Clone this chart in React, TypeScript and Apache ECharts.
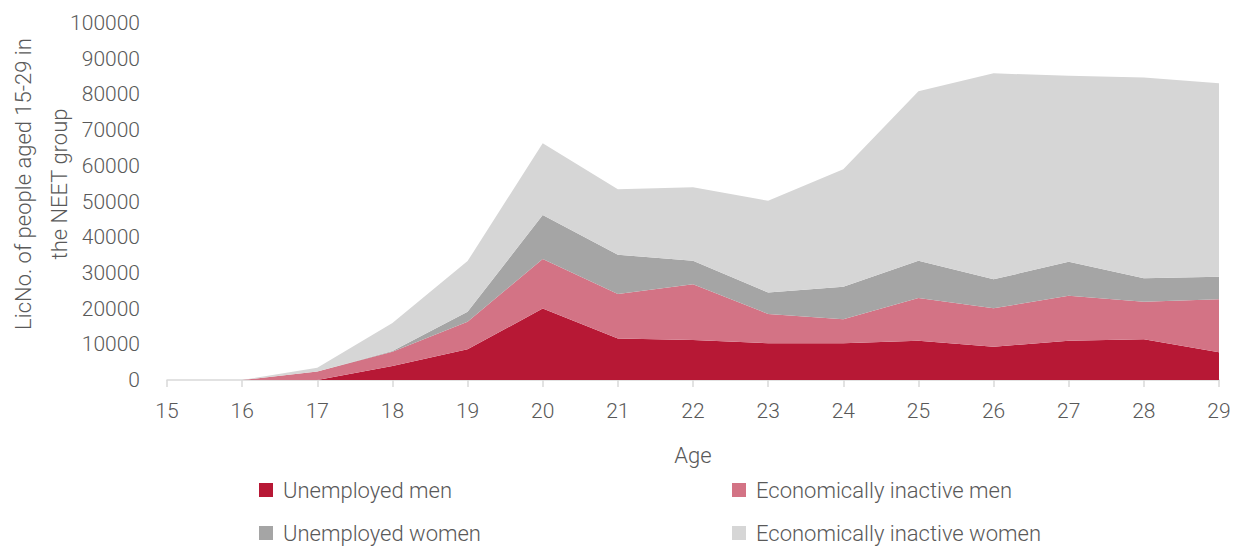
import React, { useEffect, useRef } from "react";
import * as echarts from "echarts";

const ages = ["15", "16", "17", "18", "19", "20", "21", "22", "23", "24", "25", "26", "27", "28", "29"];
const unemployedMen = [0, 0, 0, 3900, 8600, 20000, 11600, 11200, 10300, 10300, 11000, 9300, 11000, 11400, 7750];
const inactiveMen = [0, 0, 2400, 4000, 7700, 13900, 12500, 15600, 8200, 6700, 12000, 10800, 12600, 10500, 14850];
const unemployedWomen = [0, 0, 0, 200, 2800, 12300, 11000, 6600, 6000, 9100, 10400, 8100, 9500, 6600, 6300];
const inactiveWomen = [0, 0, 1000, 7900, 14200, 20100, 18300, 20600, 25700, 32900, 47500, 57700, 52100, 56200, 54200];

const names = ["Unemployed men", "Economically inactive men", "Unemployed women", "Economically inactive women"];
const colors = ["#b71835", "#d37385", "#a5a5a5", "#d6d6d6"];
const yTitle = "LicNo. of people aged 15-29 in\nthe NEET group";
const xTitle = "Age";
const FONT = "Roboto";
const TEXT = "#595959";

export default function App() {
  const ref = useRef<HTMLDivElement>(null);
  useEffect(() => {
    const chart = echarts.init(ref.current!, undefined, { renderer: "svg" });
    const data = [unemployedMen, inactiveMen, unemployedWomen, inactiveWomen];
    const legendPos = [
      { left: 254, top: 474 },
      { left: 727, top: 474 },
      { left: 254, top: 517 },
      { left: 727, top: 517 },
    ];
    chart.setOption({
      animation: false,
      grid: { left: 167, right: 21, top: 23, bottom: 168, containLabel: false, outerBoundsMode: "none" },
      legend: names.map((n, i) => ({
        ...legendPos[i],
        data: [n],
        icon: "rect",
        itemWidth: 14,
        itemHeight: 14,
        selectedMode: false,
        textStyle: { fontFamily: FONT, fontWeight: 300, fontSize: 22, color: TEXT, padding: [0, 0, 0, 5] },
      })),
      graphic: [
        {
          type: "text",
          x: 41,
          y: 184,
          rotation: Math.PI / 2,
          style: {
            text: yTitle,
            fontFamily: FONT,
            fontWeight: 300,
            fontSize: 22,
            lineHeight: 36,
            fill: TEXT,
            align: "center",
            verticalAlign: "middle",
          },
        },
      ],
      xAxis: {
        type: "category",
        data: ages,
        boundaryGap: false,
        name: xTitle,
        nameLocation: "middle",
        nameGap: 64,
        nameTextStyle: { fontFamily: FONT, fontWeight: 300, fontSize: 22, color: TEXT },
        axisLine: { lineStyle: { color: "#d9d9d9", width: 1.5 } },
        axisTick: { show: true, length: 7, lineStyle: { color: "#d9d9d9", width: 1.5 } },
        axisLabel: { fontFamily: FONT, fontWeight: 300, fontSize: 21, color: TEXT, margin: 20 },
      },
      yAxis: {
        type: "value",
        min: 0,
        max: 100000,
        interval: 10000,
        splitLine: { show: false },
        axisLine: { show: false },
        axisTick: { show: false },
        axisLabel: {
          fontFamily: FONT,
          fontWeight: 300,
          fontSize: 21,
          color: TEXT,
          margin: 27,
          formatter: (v: number) => String(v),
        },
      },
      series: data.map((d, i) => ({
        name: names[i],
        type: "line",
        stack: "total",
        data: d,
        showSymbol: false,
        symbol: "none",
        lineStyle: { width: 0 },
        areaStyle: { color: colors[i], opacity: 1 },
        itemStyle: { color: colors[i] },
      })),
    });
    return () => chart.dispose();
  }, []);
  return <div ref={ref} style={{ position: "absolute", left: 0, top: 0, width: 1240, height: 548 }} />;
}
